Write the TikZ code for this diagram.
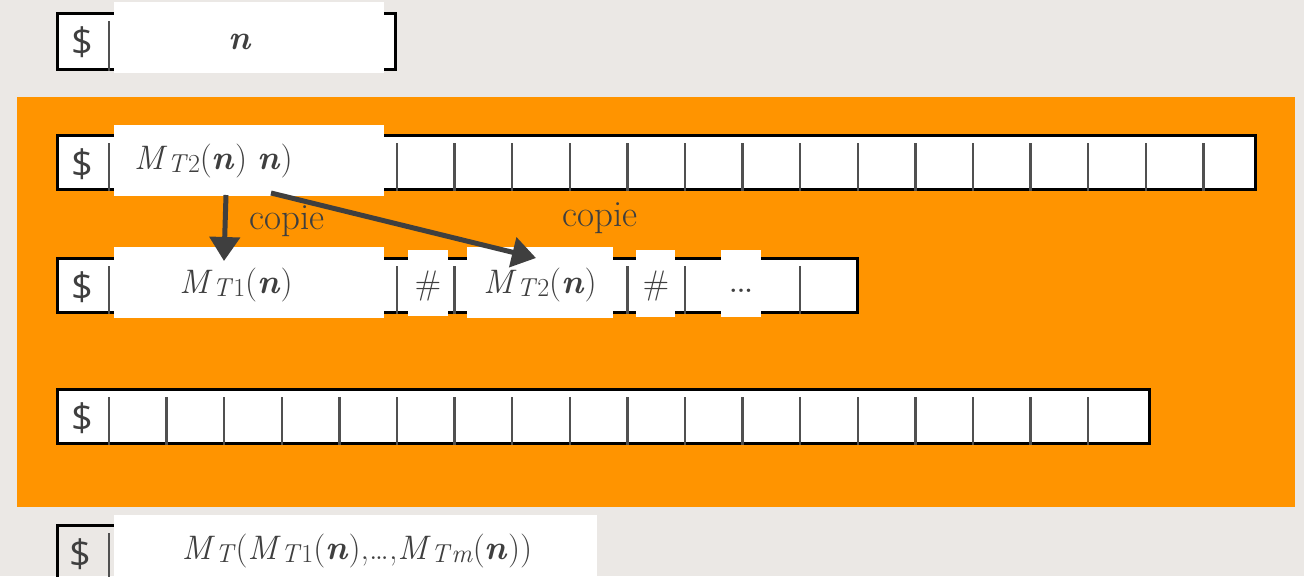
\documentclass[tikz,border=0pt]{standalone}
\usepackage{fontspec}
\newfontfamily\dollarfont{Open Sans}
\usetikzlibrary{arrows.meta}
\definecolor{bgcol}{HTML}{EBE8E5}
\definecolor{orangebg}{HTML}{FF9400}
\definecolor{txtgrey}{HTML}{3F3F3F}
\definecolor{divgrey}{HTML}{505050}
\tikzset{
  tapeborder/.style={draw=black,line width=3pt,fill=white},
  divider/.style={draw=divgrey,line width=2.5pt},
  whitebox/.style={fill=white,draw=none},
  lbl/.style={text=txtgrey,font=\fontsize{34}{40}\selectfont,inner sep=0pt},
  copylbl/.style={text=txtgrey,font=\fontsize{37}{42}\selectfont,inner sep=0pt},
  dollar/.style={text=txtgrey,font=\dollarfont\fontsize{38}{44}\selectfont,inner sep=0pt},
  copyarrow/.style={draw=txtgrey,line width=5pt,-{Triangle[length=24pt,width=30pt]}}
}
\newcommand{\MT}[1]{\textit{M}\raisebox{-3pt}{\fontsize{26}{30}\selectfont\textit{T}#1}}
\newcommand{\bn}{\textbf{\textit{n}}}
\begin{document}
\begin{tikzpicture}[x=1pt,y=-1pt]
\useasboundingbox (0,0) rectangle (1304,576);
\fill[bgcol] (0,0) rectangle (1304,576);
\fill[orangebg] (17,97) rectangle (1295,507);

% tape 1
\draw[tapeborder] (57,13) rectangle (395,69);
\draw[divider] (109,21) -- (109,71);
\fill[whitebox] (114,2) rectangle (384,73);
\node[dollar] (d1) at (82,42) {\$};
\node[lbl] (t1) at (240,42) {\bn};

% tape 2
\draw[tapeborder] (57,135) rectangle (1255,189);
\foreach \k in {0,...,19} \draw[divider] ({109+57.6*\k},143) -- ({109+57.6*\k},191);
\fill[whitebox] (114,125) rectangle (384,196);
\node[dollar] (d2) at (82,164) {\$};
\node[lbl,anchor=west] (t2) at (134,161) {\MT{2}(\bn)\hspace{10pt}\bn)};

% tape 3
\draw[tapeborder] (57,258) rectangle (857,312);
\foreach \k in {0,...,12} \draw[divider] ({109+57.6*\k},266) -- ({109+57.6*\k},314);
\fill[whitebox] (114,247) rectangle (384,318);
\fill[whitebox] (408,250) rectangle (448,316);
\fill[whitebox] (467,247) rectangle (613,318);
\fill[whitebox] (636,250) rectangle (675,317);
\fill[whitebox] (721,250) rectangle (761,317);
\node[dollar] (d3) at (82,287) {\$};
\node[lbl] (t3a) at (236,285) {\MT{1}(\bn)};
\node[lbl] (t3b) at (428,286) {\#};
\node[lbl] (t3c) at (540,285) {\MT{2}(\bn)};
\node[lbl] (t3d) at (656,286) {\#};
\node[lbl,font=\bfseries\fontsize{24}{28}\selectfont] (t3e) at (741,291) {...};

% tape 4
\draw[tapeborder] (57,389) rectangle (1149,443);
\foreach \k in {0,...,17} \draw[divider] ({109+57.6*\k},397) -- ({109+57.6*\k},445);
\node[dollar] (d4) at (82,418) {\$};

% tape 5
\draw[black,line width=3pt] (57,585) -- (57,525) -- (114,525);
\draw[divider] (109,533) -- (109,585);
\fill[whitebox] (114,515) rectangle (597,585);
\node[dollar] (d5) at (80,554) {\$};
\node[lbl] (t5) at (357,551) {\MT{}(\MT{1}(\bn),\ldots,\MT{\textit{m}}(\bn))};

% arrows
\coordinate (a1s) at (226,195);
\coordinate (a1e) at (224,261);
\coordinate (a2s) at (271,193);
\coordinate (a2e) at (536,258);
\draw[copyarrow] (a1s) -- (a1e);
\draw[copyarrow] (a2s) -- (a2e);
\node[copylbl] (c1) at (287,221) {copie};
\node[copylbl] (c2) at (600,218) {copie};
\end{tikzpicture}
\end{document}
